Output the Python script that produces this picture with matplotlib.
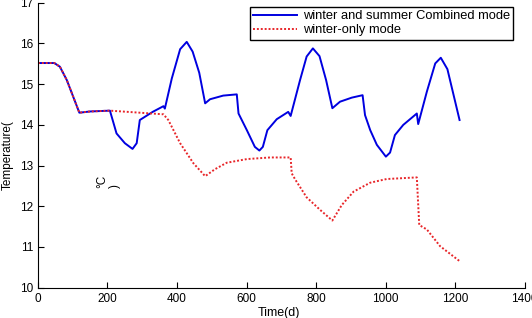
import matplotlib.pyplot as plt
plt.rc("font", family="Liberation Sans")
import numpy as np

# winter and summer combined mode
t_comb = [0, 47, 63, 83, 119, 150, 207, 226, 250, 272, 284, 293, 330, 361, 365,
          385, 409, 428, 445, 464, 481, 495, 533, 572, 577, 601, 624, 637, 647,
          660, 687, 720, 727, 754, 773, 791, 810, 829, 847, 869, 903, 934, 941,
          956, 975, 1001, 1013, 1027, 1051, 1090, 1094, 1119, 1143, 1159, 1178, 1213]
T_comb = [15.52, 15.52, 15.43, 15.10, 14.30, 14.33, 14.35, 13.79, 13.55, 13.41,
          13.55, 14.12, 14.32, 14.46, 14.40, 15.14, 15.86, 16.04, 15.80, 15.28,
          14.53, 14.63, 14.72, 14.75, 14.28, 13.87, 13.46, 13.37, 13.46, 13.87,
          14.14, 14.32, 14.22, 15.10, 15.68, 15.88, 15.69, 15.10, 14.41, 14.57,
          14.67, 14.73, 14.24, 13.87, 13.51, 13.22, 13.32, 13.75, 14.00, 14.28,
          14.02, 14.82, 15.51, 15.65, 15.37, 14.12]

# winter-only mode
t_win = [0, 47, 63, 83, 119, 150, 207, 361, 375, 409, 447, 481, 509, 543, 601,
         668, 727, 730, 740, 773, 812, 847, 874, 908, 956, 1003, 1090, 1097,
         1119, 1157, 1212]
T_win = [15.52, 15.52, 15.43, 15.10, 14.30, 14.33, 14.35, 14.26, 14.12, 13.55,
         13.06, 12.74, 12.91, 13.07, 13.16, 13.20, 13.20, 12.81, 12.66, 12.22,
         11.91, 11.65, 12.03, 12.36, 12.58, 12.67, 12.71, 11.54, 11.43, 11.02, 10.66]

fig = plt.figure(figsize=(5.32, 3.18), dpi=100)
ax = fig.add_axes([0.0714, 0.0953, 0.9146, 0.8959])

ax.plot(t_comb, T_comb, c='#0000e0', lw=1.4, label='winter and summer Combined mode')
ax.plot(t_win, T_win, c='#e8262a', lw=1.4, ls=(0, (1, 1)), label='winter-only mode')

ax.set_xlim(0, 1400)
ax.set_ylim(10, 17)
ax.set_xticks(np.arange(0, 1401, 200))
ax.set_yticks(np.arange(10, 18, 1))
ax.tick_params(direction='in', labelsize=8.5, length=4, top=False, right=False)
ax.spines['top'].set_visible(False)
ax.spines['right'].set_visible(False)

leg = ax.legend(loc='upper right', bbox_to_anchor=(0.976, 0.985), borderaxespad=0,
                fontsize=9.3, handlelength=3.4, handletextpad=0.4,
                fancybox=False, framealpha=1, edgecolor='k', borderpad=0.25,
                labelspacing=0.15)
leg.get_frame().set_linewidth(1.0)

fig.text(279 / 532, 1 - 313 / 318, "Time(d)", ha='center', va='center', fontsize=9)
fig.text(8 / 532, 1 - 155 / 318, "Temperature(", ha='center', va='center',
         rotation=90, fontsize=8.5)
ax.text(184, 12.62, "\u00b0C", ha='center', va='center', rotation=90, fontsize=8.5)
ax.text(222, 12.5, ")", ha='center', va='center', rotation=90, fontsize=8.5)

fig.savefig("out.png", dpi=100)
